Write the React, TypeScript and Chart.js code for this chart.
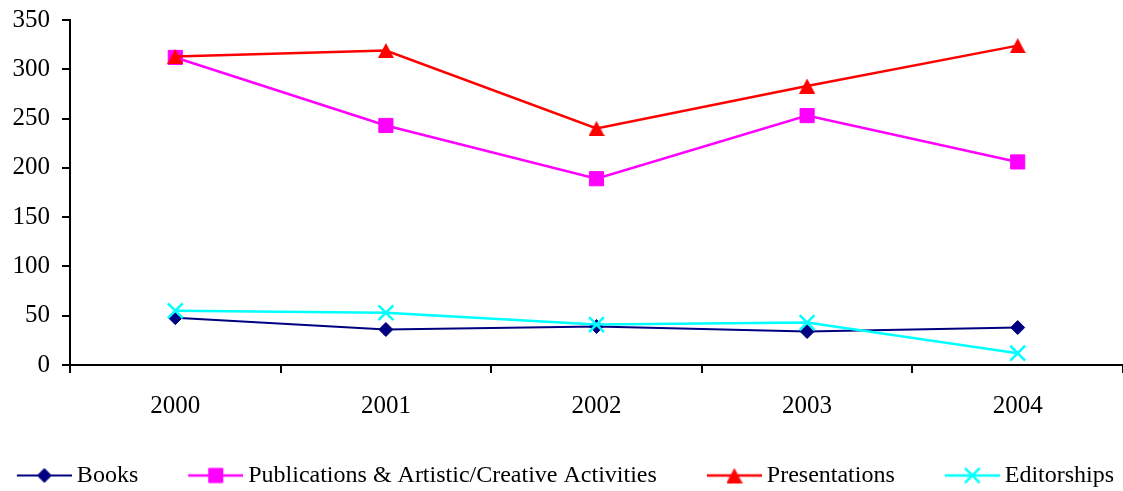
import React, { useEffect, useRef } from 'react';
import { Chart, registerables } from 'chart.js';
import { drawPoint } from 'chart.js/helpers';

Chart.register(...registerables);

const years = ['2000', '2001', '2002', '2003', '2004'];
const seriesNames = ['Books', 'Publications & Artistic/Creative Activities', 'Presentations', 'Editorships'];
const books = [48, 36, 39, 34, 38];
const publications = [312, 243, 189, 253, 206];
const presentations = [313, 319, 240, 283, 324];
const editorships = [55, 53, 41, 43, 12];
const yMin = 0;
const yMax = 350;
const yStep = 50;

const FAMILY = "'Liberation Serif', 'Times New Roman', serif";
const TICK_SIZE = 25;
const LEGEND_SIZE = 24;
const LEGEND_PAD = 4;
const BOX_W = 94;
const W = 1123;

function triangleImage(color: string) {
  const c = document.createElement('canvas');
  c.width = 16;
  c.height = 15;
  const ctx = c.getContext('2d')!;
  ctx.fillStyle = color;
  ctx.beginPath();
  ctx.moveTo(0, 15);
  ctx.lineTo(8, 0);
  ctx.lineTo(16, 15);
  ctx.closePath();
  ctx.fill();
  return c;
}

function legendIcon(color: string, style: any, radius: number, lineW: number, markerBorder: number) {
  const textStart = BOX_W + LEGEND_SIZE / 2;
  const lineEnd = textStart - 5;
  const lineStart = lineEnd - 55;
  const c0 = BOX_W / 2;
  const half = Math.ceil(Math.max(c0 - lineStart, lineEnd - c0));
  const c = document.createElement('canvas');
  c.width = half * 2;
  c.height = 24;
  const ctx = c.getContext('2d')!;
  const off = half - c0;
  const ls = lineStart + off;
  const le = lineEnd + off;
  ctx.strokeStyle = color;
  ctx.fillStyle = color;
  ctx.lineWidth = lineW;
  ctx.beginPath();
  ctx.moveTo(ls, 12);
  ctx.lineTo(le, 12);
  ctx.stroke();
  const mx = (ls + le) / 2;
  if (typeof style === 'string') {
    ctx.lineWidth = markerBorder;
    drawPoint(ctx, { pointStyle: style, radius, borderWidth: markerBorder, rotation: 0 } as any, mx, 12);
  } else {
    ctx.drawImage(style, mx - style.width / 2, 12 - style.height / 2);
  }
  return c;
}

export default function App() {
  const ref = useRef<HTMLCanvasElement>(null);

  useEffect(() => {
    document.body.style.margin = '0';
    document.body.style.overflow = 'hidden';
    const tri = triangleImage('#FF0000');
    const styles = [
      { color: '#000080', style: 'rectRot', radius: 7, line: 2, border: 1 },
      { color: '#FF00FF', style: 'rect', radius: 10, line: 2.5, border: 1 },
      { color: '#FF0000', style: tri, radius: 9, line: 2.5, border: 1 },
      { color: '#00FFFF', style: 'crossRot', radius: 10.5, line: 2.5, border: 2.5 },
    ];
    const icons = styles.map((s) => legendIcon(s.color, s.style, s.radius, s.line, s.border));

    const mc = document.createElement('canvas').getContext('2d')!;
    mc.font = `${LEGEND_SIZE}px ${FAMILY}`;
    let rowW = 0;
    seriesNames.forEach((n) => {
      rowW += BOX_W + LEGEND_SIZE / 2 + mc.measureText(n).width + LEGEND_PAD;
    });
    const padRight = 0;
    const rightEdge = W - padRight;
    // centre the visible legend between x=13 and x=1118
    const visibleW = rowW - LEGEND_PAD - (BOX_W + LEGEND_SIZE / 2 - 60);
    const lastEnd = 1118 + (1105 - visibleW) / -2 + 0;
    const targetEnd = Math.min(1119, 565.5 + visibleW / 2);
    const padLeft = 2 * targetEnd + LEGEND_PAD - rightEdge - rowW;
    void lastEnd;

    const values = [books, publications, presentations, editorships];
    const datasets = seriesNames.map((name, i) => ({
      label: name,
      data: values[i],
      borderColor: styles[i].color,
      backgroundColor: styles[i].color,
      borderWidth: styles[i].line,
      pointStyle: styles[i].style as any,
      pointRadius: styles[i].radius,
      pointHoverRadius: styles[i].radius,
      pointBorderWidth: styles[i].border,
      pointBorderColor: styles[i].color,
      pointBackgroundColor: styles[i].color,
      tension: 0,
      fill: false,
      order: 3 - i,
    }));

    const chart = new Chart(ref.current!, {
      type: 'line',
      data: { labels: years, datasets },
      options: {
        animation: false,
        responsive: true,
        maintainAspectRatio: false,
        layout: { autoPadding: false, padding: { left: padLeft, right: padRight, top: 0, bottom: -6.5 } },
        plugins: {
          tooltip: { enabled: false },
          legend: {
            position: 'bottom',
            align: 'center',
            labels: {
              usePointStyle: true,
              pointStyleWidth: BOX_W,
              padding: LEGEND_PAD,
              color: '#000',
              font: { family: FAMILY, size: LEGEND_SIZE },
              generateLabels: (ch: any) =>
                ch.data.datasets.map((ds: any, i: number) => ({
                  text: ds.label,
                  pointStyle: icons[i],
                  datasetIndex: i,
                  hidden: false,
                  fillStyle: ds.borderColor,
                  strokeStyle: ds.borderColor,
                  lineWidth: 0,
                  fontColor: '#000',
                })),
            },
          },
        },
        scales: {
          x: {
            type: 'category',
            offset: true,
            grid: { offset: true, drawOnChartArea: false, tickLength: 8, color: '#000', lineWidth: 2 },
            border: { color: '#000', width: 2 },
            ticks: { color: '#000', font: { family: FAMILY, size: TICK_SIZE }, padding: 18, maxRotation: 0, autoSkip: false },
            afterFit: (s: any) => {
              s.height = 94.5;
              s.paddingLeft = 0;
              s.paddingRight = 0;
            },
          },
          y: {
            min: yMin,
            max: yMax,
            ticks: { stepSize: yStep, color: '#000', font: { family: FAMILY, size: TICK_SIZE }, padding: 12 },
            grid: { drawOnChartArea: false, tickLength: 8, color: '#000', lineWidth: 2 },
            border: { color: '#000', width: 2 },
            afterFit: (s: any) => {
              s.width = 70 - padLeft;
              s.paddingTop = 20;
              s.paddingBottom = 0;
            },
          },
        },
      },
    });
    return () => chart.destroy();
  }, []);

  return (
    <div style={{ position: 'absolute', left: 0, top: 0, width: W, height: 491, background: '#fff', overflow: 'hidden' }}>
      <canvas ref={ref} style={{ display: 'block' }} />
    </div>
  );
}
